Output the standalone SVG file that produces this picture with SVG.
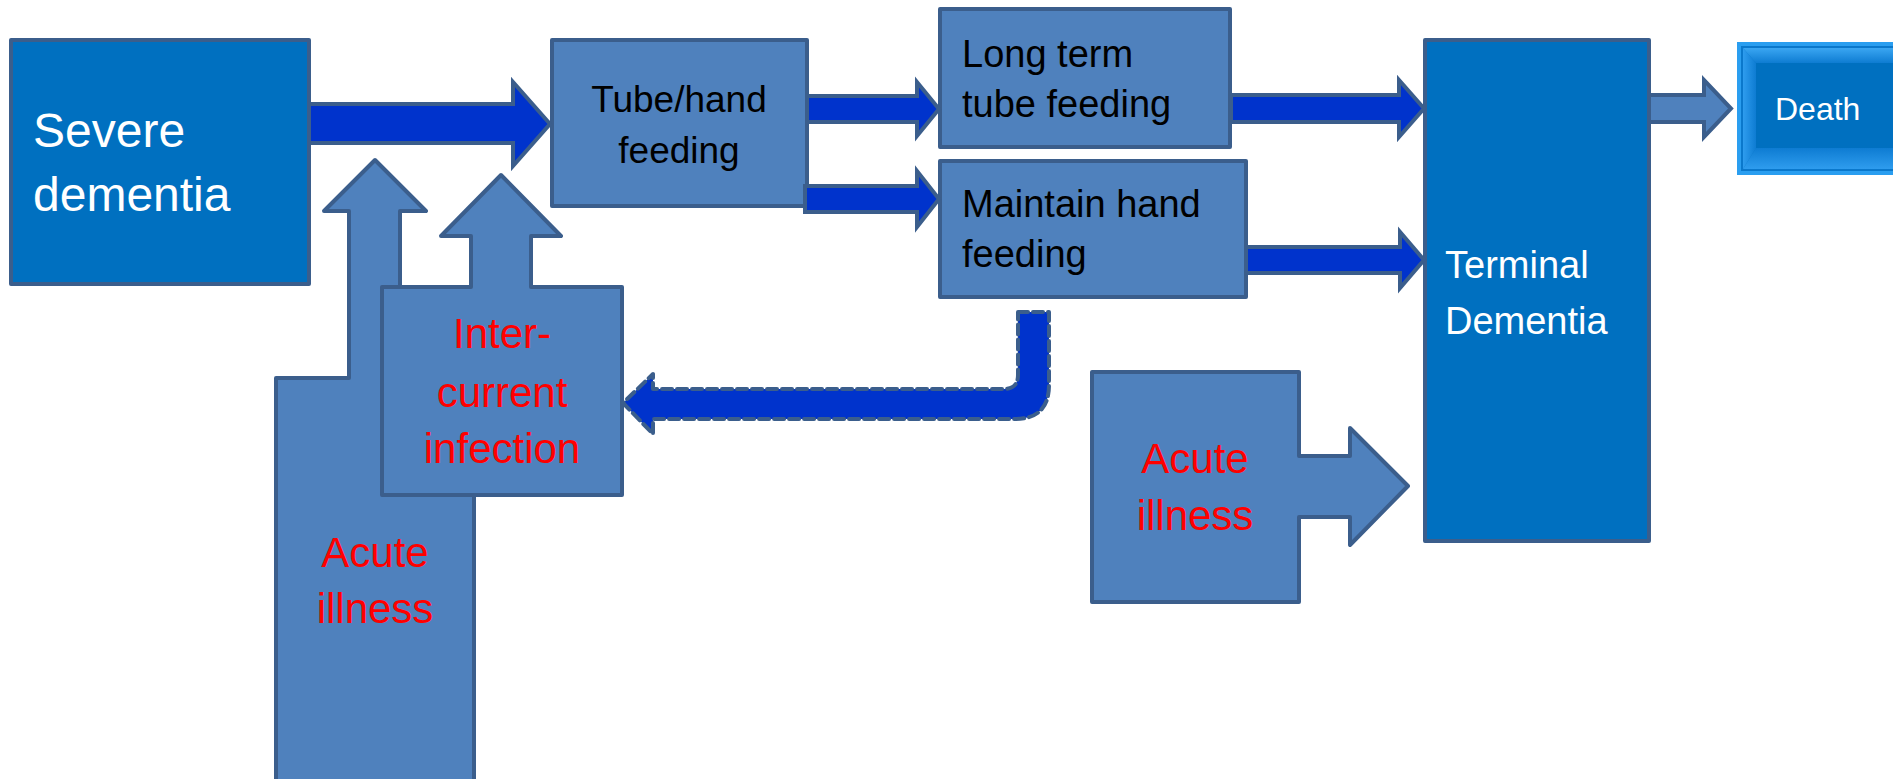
<svg xmlns="http://www.w3.org/2000/svg" width="1893" height="779" viewBox="0 0 1893 779">
<defs>
<style>
.dark{fill:#0070C0;stroke:#3B5E8C;stroke-width:4;stroke-linejoin:round}
.light{fill:#4F81BD;stroke:#3B5E8C;stroke-width:4;stroke-linejoin:round}
.arr{fill:#0033CC;stroke:#3B5E8C;stroke-width:4;stroke-linejoin:miter}
.arrl{fill:#4F81BD;stroke:#3B5E8C;stroke-width:4;stroke-linejoin:miter}
.dash{fill:#0033CC;stroke:#3B5E8C;stroke-width:4;stroke-dasharray:10 5;stroke-linejoin:round;stroke-linecap:round}
text{font-family:"Liberation Sans",Arial,sans-serif}
.w{fill:#FFFFFF}
.k{fill:#000000}
.r{fill:#FF0000;text-anchor:middle;font-size:42px}
</style>
<linearGradient id="bt" x1="0" y1="0" x2="0" y2="1"><stop offset="0" stop-color="#3AA6F2"/><stop offset="1" stop-color="#0E7CD2"/></linearGradient>
<linearGradient id="bb" x1="0" y1="0" x2="0" y2="1"><stop offset="0" stop-color="#0E7CD2"/><stop offset="1" stop-color="#2E9CEE"/></linearGradient>
<linearGradient id="bl" x1="0" y1="0" x2="1" y2="0"><stop offset="0" stop-color="#2E9CEE"/><stop offset="1" stop-color="#0E7CD2"/></linearGradient>
</defs>

<g id="acute-illness-left">
<path class="light" d="M375 160 L426 211 L400 211 L400 378 L474 378 L474 800 L276 800 L276 378 L349 378 L349 211 L324 211 Z"/>
<text class="r" x="375" y="567">Acute</text>
<text class="r" x="375" y="623">illness</text>
</g>

<g id="intercurrent-infection">
<path class="light" d="M501 175 L561 236 L531 236 L531 287 L622 287 L622 495 L382 495 L382 287 L471 287 L471 236 L441 236 Z"/>
<text class="r" x="502" y="348">Inter-</text>
<text class="r" x="502" y="407">current</text>
<text class="r" x="502" y="463">infection</text>
</g>

<g id="severe-dementia">
<rect class="dark" x="11" y="40" width="298" height="244"/>
<text class="w" x="33" y="147" font-size="48">Severe</text>
<text class="w" x="33" y="211" font-size="48">dementia</text>
</g>

<g id="tube-hand-feeding">
<rect class="light" x="552" y="40" width="255" height="166"/>
<text class="k" x="679" y="112" font-size="37" text-anchor="middle">Tube/hand</text>
<text class="k" x="679" y="163" font-size="37" text-anchor="middle">feeding</text>
</g>

<g id="long-term-tube-feeding">
<rect class="light" x="940" y="9" width="290" height="138"/>
<text class="k" x="962" y="67" font-size="38">Long term</text>
<text class="k" x="962" y="117" font-size="38">tube feeding</text>
</g>

<g id="maintain-hand-feeding">
<rect class="light" x="940" y="161" width="306" height="136"/>
<text class="k" x="962" y="217" font-size="38">Maintain hand</text>
<text class="k" x="962" y="267" font-size="38">feeding</text>
</g>

<g id="terminal-dementia">
<rect class="dark" x="1425" y="40" width="224" height="501"/>
<text class="w" x="1445" y="278" font-size="38">Terminal</text>
<text class="w" x="1445" y="334" font-size="38">Dementia</text>
</g>

<g id="acute-illness-right">
<path class="light" d="M1092 372 L1299 372 L1299 456 L1350 456 L1350 428 L1408 486 L1350 545 L1350 517 L1299 517 L1299 602 L1092 602 Z"/>
<text class="r" x="1195" y="473">Acute</text>
<text class="r" x="1195" y="530">illness</text>
</g>

<g id="death">
<rect x="1737" y="42" width="170" height="133" fill="#2A9EF0"/>
<rect x="1741" y="46" width="166" height="125" fill="#0A78CC"/>
<path d="M1743 48 L1905 48 L1905 63 L1756 63 Z" fill="url(#bt)"/>
<path d="M1743 169 L1905 169 L1905 148 L1756 148 Z" fill="url(#bb)"/>
<path d="M1743 48 L1756 63 L1756 148 L1743 169 Z" fill="url(#bl)"/>
<rect x="1756" y="63" width="150" height="85" fill="#0070C0"/>
<text class="w" x="1775" y="120" font-size="32">Death</text>
</g>

<g id="connectors">
<path class="arr" d="M309 104 L513 104 L513 82 L550 124 L513 166 L513 143 L309 143 Z"/>
<path class="arr" d="M807 96 L917 96 L917 82 L939 109 L917 136 L917 122 L807 122 Z"/>
<path class="arr" d="M805 186 L917 186 L917 171 L939 199 L917 227 L917 212 L805 212 Z"/>
<path class="arr" d="M1231 95 L1399 95 L1399 80 L1424 108.5 L1399 137 L1399 122 L1231 122 Z"/>
<path class="arr" d="M1246 247 L1400 247 L1400 232 L1424 260 L1400 288 L1400 273 L1246 273 Z"/>
<path class="arrl" d="M1649 95 L1704 95 L1704 80 L1731 108.5 L1704 137 L1704 122 L1649 122 Z"/>
<path class="dash" d="M1018 312 L1049 312 L1049 385 Q1049 419 1015 419 L653 419 L653 434 L623 403 L653 374 L653 389 L1004 389 Q1018 389 1018 375 Z"/>
</g>
</svg>
